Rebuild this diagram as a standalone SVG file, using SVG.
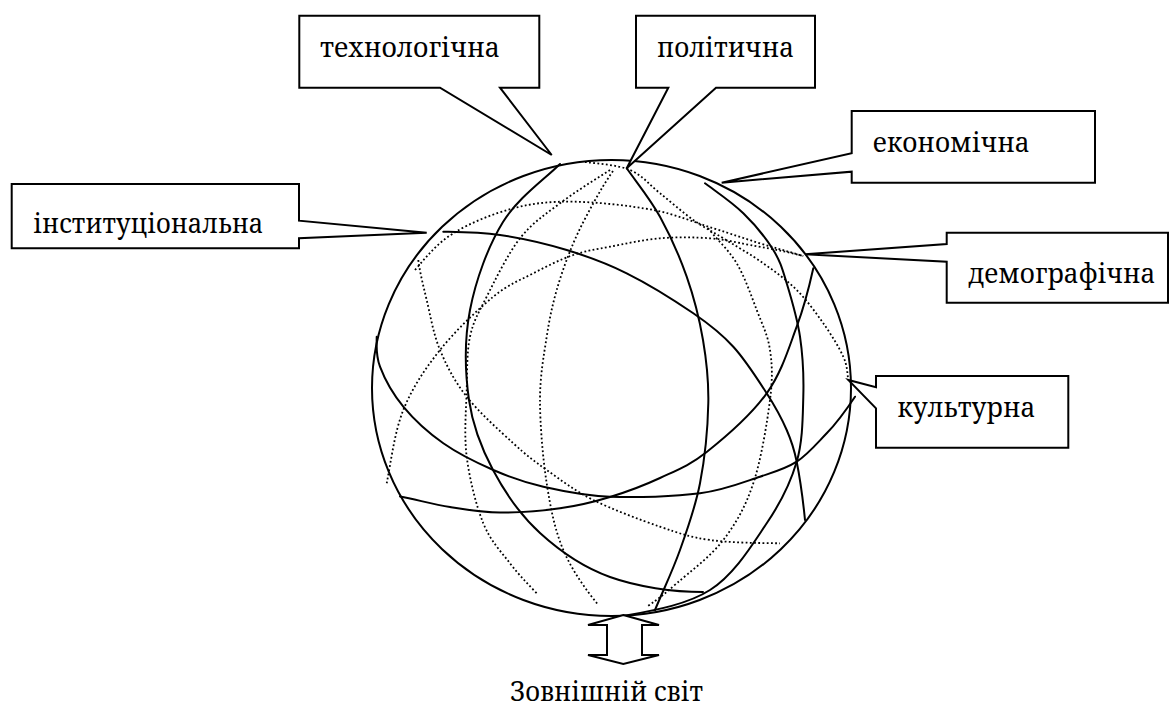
<svg xmlns="http://www.w3.org/2000/svg" width="1176" height="707" viewBox="0 0 1176 707">
  <style>
    .solid { fill: none; stroke: #000; stroke-width: 2; stroke-linecap: round; }
    .dot { fill: none; stroke: #000; stroke-width: 1.8; stroke-dasharray: 1.8 2.4; }
    .callout { fill: #fff; stroke: #000; stroke-width: 2; stroke-linejoin: miter; }
    .label { font-family: "Noto Serif", "Noto Serif CJK SC", "DejaVu Serif", serif; font-size: 28px; fill: #000; }
  </style>
  <rect width="1176" height="707" fill="#fff"/>

  <!-- globe: outer outline, solid great circles and dotted back lines -->
  <g id="globe">
    <ellipse cx="611.5" cy="388" rx="239.5" ry="228" class="solid"/>
    <!-- dotted lines -->
    <path class="dot" d="M415,270 C427,256 436.9,243.6 453.3,233.3 S493.3,213.6 513.3,208.3 S550,201.4 573.3,201.7 S630,205.6 653.3,210 S695.5,222.8 713.3,228.3 S745,238.7 760,243.3 S788,251.5 803.3,256"/>
    <path class="dot" d="M418.3,260 C420,273 423.1,285 426.7,300 S433.3,333.9 440,350 S454.5,381.2 466.7,396.7 S500,431.1 513.3,443.3 S533.4,460.6 546.7,470 S574.4,490.6 593.3,500 S640.6,520 660,526.7 S690,537.2 710,540 S757,543 780,543.3"/>
    <path class="dot" d="M386.7,483.3 C391,462 394.4,432.2 403.3,410 S425,368.9 440,350 S477.8,309.5 493.3,296.7 S520,280.3 533.3,273.3 S560.5,259.4 573.3,255 S595.6,249.5 610,246.7 S643.3,239.7 660,238.3 S695,237.2 710,238.3 S734.5,242.1 750,245 S785,251 803.3,256"/>
    <path class="dot" d="M613,171 C606,181 599.9,191.3 593.3,203.3 S579.4,228.9 573.3,243.3 S561.1,274.4 556.7,290 S549.5,318.4 546.7,336.7 S540,375.6 540,400 S542.8,458.3 546.7,483.3 S554.7,529.7 563.3,550 S586,590 598.3,605"/>
    <path class="dot" d="M610,170 C593,181 575,191.9 560,203.3 S532.2,222.7 520,238.3 S495,280.3 486.7,296.7 S473.3,321.2 470,336.7 S467.3,370 466.7,390 S463.9,434.5 466.7,456.7 S476.1,505.5 483.3,523.3 S501.1,551.6 510,563.3 S527,583 536.7,593.3"/>
    <path class="dot" d="M585,162 C600,164 617.5,164.8 630,170 S649.5,185 660,193.3 S682.8,212.5 693.3,220 S711.6,231.1 723.3,238.3 S751.1,254.7 763.3,263.3 S786.7,280 796.7,290 S815.5,312.2 823.3,323.3 S839.1,347.3 843.3,356.7 S847,372 848.3,380"/>
    <path class="dot" d="M708,228 C718,241 728.6,249.6 736.7,263.3 S751.2,295.6 756.7,310 S767.8,335 770,350 S772.8,377.8 770,400 S761.1,460 753.3,483.3 S736.1,523.3 723.3,540 S689.5,572.2 676.7,583.3 S660,598 646.7,606.7"/>
    <!-- solid lines -->
    <path class="solid" d="M560,164 C545,179 518,197.7 503,222 S475.7,280.3 470,310 S465.2,373.3 469,400 S481.2,447.8 493,470 S520.5,515.2 540,533 S582.8,567.2 610,577 S673,592 703,592"/>
    <path class="solid" d="M626.7,168.3 C637,183 650,198.6 660,216.7 S679.5,256.2 686.7,276.7 S699.4,318.9 703,340 S708.8,379.4 708.3,403.3 S704.7,458.9 700,483.3 S687.5,528.9 680,550 S663.3,590 655,610"/>
    <path class="solid" d="M705,183.3 C717,192.3 731.9,202.2 743.3,213.3 S766.1,238.3 773.3,250 S782.3,268.9 786.7,283.3 S797.2,317.8 800,336.7 S803.9,375.9 803.3,396.7 S802.8,440.9 796.7,461.7 S781.2,501.9 766.7,523.3 S734.5,574.4 710,590 S650,611 620,616.7"/>
    <path class="solid" d="M813.3,268.3 C809.3,286.3 804.5,305.9 796.7,326.7 S781.7,372.4 766.7,393.3 S724.5,437.9 706.7,452 S676.1,470.5 660,478 S626.7,491.9 610,497 S578.3,505.7 560,508.3 S518.3,512.7 500,512.5 S466.7,509.7 450,507 S416,499.5 400,496.5"/>
    <path class="solid" d="M443.3,231.7 C462,232 479.4,232 500,235 S545.6,243.6 566.7,250 S605.6,262.8 626.7,273.3 S675.5,301.1 693.3,313.3 S721.1,333.4 733.3,346.7 S757.8,379.4 766.7,393.3 S781.7,418.6 786.7,430 S793.7,446.7 796.7,461.7 S803,500 805,520"/>
    <path class="solid" d="M376.7,336.7 C376.7,346.7 375.6,355 380,366.7 S392.8,393.9 403.3,406.7 S428.3,432.8 443.3,443.3 S476.6,462.8 493.3,470 S523.9,482.3 543.3,486.7 S583.9,495.6 610,496.7 S675,496.6 700,493.3 S743.9,482 760,476.7 S785.6,468.9 796.7,461.7 S817,443.3 826.7,433.3 S849,405.7 855,396.7"/>
  </g>

  <!-- double outline arrow under the globe -->
  <g id="outside-arrow">
    <polygon class="callout" points="623.3,615 659,625 642,625 642,655 659,655 623.3,664 588,655 607,655 607,625 588,625"/>
  </g>

  <!-- callouts -->
  <g id="node-technological">
    <polygon class="callout" points="299.3,15.7 539.3,15.7 539.3,87.7 500,87.7 551.7,155 440,87.7 299.3,87.7"/>
    <text class="label" x="320" y="57.3" textLength="180" lengthAdjust="spacingAndGlyphs">технологічна</text>
  </g>
  <g id="node-political">
    <polygon class="callout" points="636,15.7 815,15.7 815,87.7 716,87.7 626.7,168.3 668.3,87.7 636,87.7"/>
    <text class="label" x="657" y="56.7" textLength="137" lengthAdjust="spacingAndGlyphs">політична</text>
  </g>
  <g id="node-economic">
    <polygon class="callout" points="851.7,111 1095,111 1095,182.7 851.7,182.7 851.7,171.7 721.7,182.7 851.7,153.3"/>
    <text class="label" x="872.7" y="152.3" textLength="157" lengthAdjust="spacingAndGlyphs">економічна</text>
  </g>
  <g id="node-institutional">
    <polygon class="callout" points="11.7,184 299,184 299,220.7 426.7,232.7 299,238.3 299,248.3 11.7,248.3"/>
    <text class="label" x="33.3" y="233.3" textLength="230" lengthAdjust="spacingAndGlyphs">інституціональна</text>
  </g>
  <g id="node-demographic">
    <polygon class="callout" points="946.7,232.7 1168,232.7 1168,302.7 946.7,302.7 946.7,261.7 805,254.3 946.7,244"/>
    <text class="label" x="968.3" y="282.7" textLength="187" lengthAdjust="spacingAndGlyphs">демографічна</text>
  </g>
  <g id="node-cultural">
    <polygon class="callout" points="876,376 1068.3,376 1068.3,447.7 876,447.7 876,408.3 848.3,380 876,387.3"/>
    <text class="label" x="897.3" y="416.7" textLength="138" lengthAdjust="spacingAndGlyphs">культурна</text>
  </g>

  <text id="label-outside" class="label" x="510" y="701" textLength="193" lengthAdjust="spacingAndGlyphs">Зовнішній світ</text>

  <g id="connectors"/>
</svg>
